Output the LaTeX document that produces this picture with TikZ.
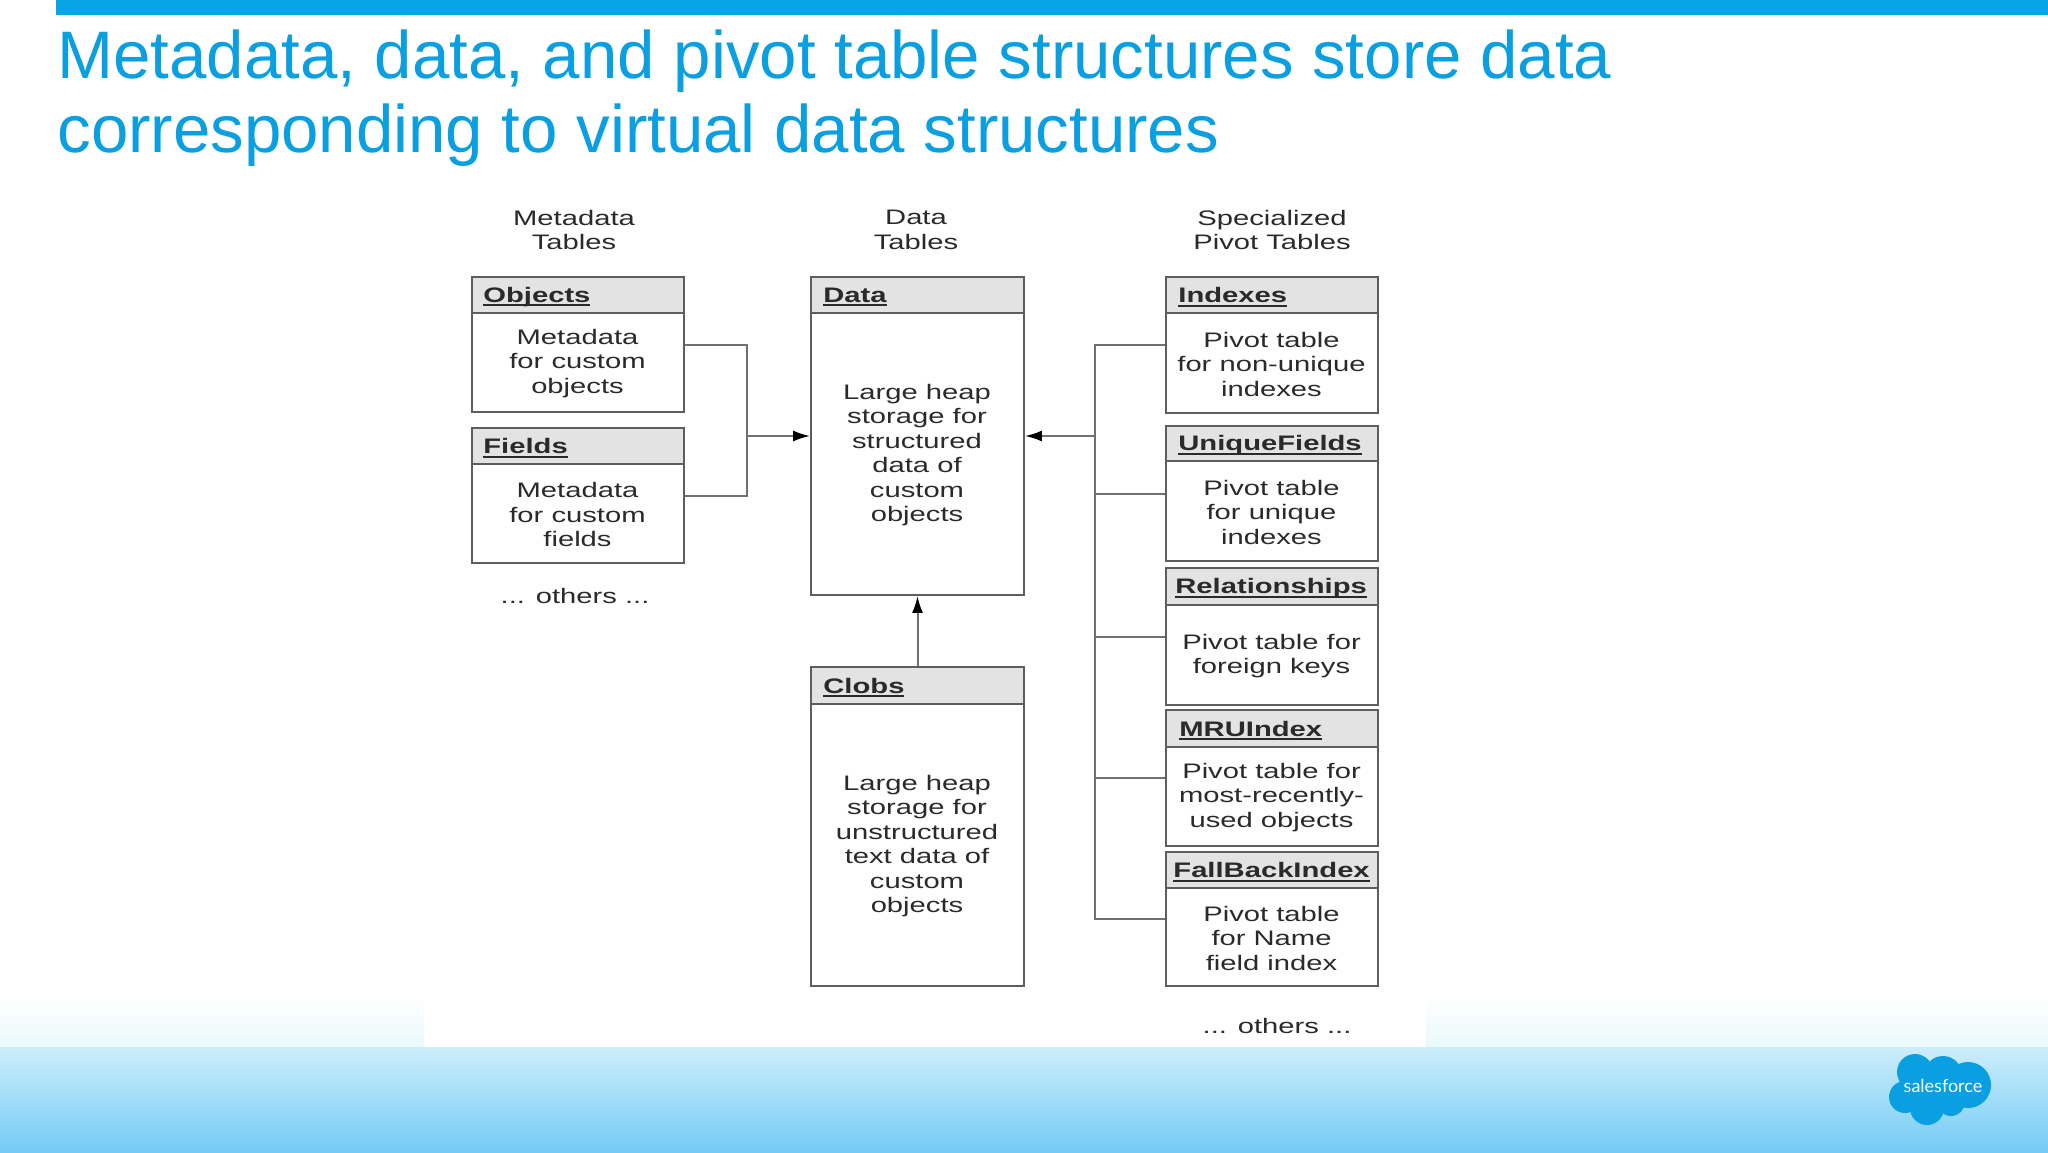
\documentclass[tikz,border=0pt]{standalone}
\usepackage{fontspec}
\setmainfont{Liberation Sans}
\newfontfamily\diagfont[FakeStretch=1.39]{Liberation Sans}
\newfontfamily\logofont{Lato}
\usetikzlibrary{fit,arrows.meta}
\definecolor{sfblue}{HTML}{0A9FE0}
\definecolor{barblue}{HTML}{06A6E6}
\definecolor{linegray}{HTML}{5E5E5E}
\definecolor{conngray}{HTML}{707070}
\definecolor{headgray}{HTML}{E3E3E3}
\definecolor{textgray}{HTML}{2A2A2A}
\definecolor{bandtop}{HTML}{EAF9FB}
\definecolor{bandmid}{HTML}{CDEEFB}
\definecolor{bandlow}{HTML}{74CBF4}
\newcommand\hdrul[1]{\setbox0\hbox{#1}\leavevmode\rlap{\rule[-2pt]{\wd0}{1pt}}\box0}
\tikzset{
  x=0.5pt,y=-0.5pt,
  tablebody/.style={draw=linegray,line width=0.9pt,fill=white,inner sep=0pt},
  tablehead/.style={draw=linegray,line width=0.9pt,fill=headgray,inner sep=0pt},
  titletext/.style={anchor=west,inner sep=0pt,text=textgray,font=\diagfont\bfseries\fontsize{10.5}{12.25}\selectfont},
  bodytext/.style={align=center,inner sep=0pt,text=textgray,font=\diagfont\fontsize{10.5}{12.25}\selectfont},
  conn/.style={draw=conngray,line width=1pt},
  connarrow/.style={conn,-{Latex[length=8.5pt,width=5.5pt,color=black]}},
  slidetitle/.style={anchor=base west,inner sep=0pt,text=sfblue,font=\fontsize{33.6}{37}\selectfont},
}
% name, left, top, head bottom, right, bottom, title, title offset, body
\newcommand\tablebox[9]{%
  \node[tablebody,fit={(#2,#3)(#5,#6)}] (#1) {};
  \node[tablehead,fit={(#2,#3)(#5,#4)}] (#1head) {};
  \node[titletext] (#1title) at ({#2+#8},{(#3+#4)/2+2}) {\hdrul{#7}};
  \node[bodytext] (#1text) at ({(#2+#5)/2-0.5},{(#4+#6)/2+1}) {#9};
}
\begin{document}
\begin{tikzpicture}
\useasboundingbox (0,0) rectangle (2048,1152);
\fill[white] (0,0) rectangle (2048,1152);
% bottom band
\shade[top color=white,bottom color=bandtop] (0,995) rectangle (2048,1047);
\shade[top color=bandmid,bottom color=bandlow] (0,1047) rectangle (2048,1152);
\fill[white] (424,990) rectangle (1426,1047);
% top bar
\fill[barblue] (56,0) rectangle (2048,15);
\node[slidetitle] (title1) at (57,78) {Metadata, data, and pivot table structures store data};
\node[slidetitle] (title2) at (57,152) {corresponding to virtual data structures};
% column heads
\node[bodytext] (collabel1) at (574,230) {Metadata\\Tables};
\node[bodytext] (collabel2) at (916,230) {Data\\Tables};
\node[bodytext] (collabel3) at (1272,230) {Specialized\\Pivot Tables};
% tables
\tablebox{objects}{472}{277}{313}{684}{412}{Objects}{11}{Metadata\\for custom\\objects}
\tablebox{fields}{472}{428}{464}{684}{563}{Fields}{11}{Metadata\\for custom\\fields}
\tablebox{data}{811}{277}{313}{1024}{595}{Data}{12}{Large heap\\storage for\\structured\\data of\\custom\\objects}
\tablebox{clobs}{811}{667}{704}{1024}{986}{Clobs}{12}{Large heap\\storage for\\unstructured\\text data of\\custom\\objects}
\tablebox{indexes}{1166}{277}{313}{1378}{413}{Indexes}{12}{Pivot table\\for non-unique\\indexes}
\tablebox{unique}{1166}{426}{461}{1378}{561}{UniqueFields}{12}{Pivot table\\for unique\\indexes}
\tablebox{rel}{1166}{568}{605}{1378}{705}{Relationships}{9}{Pivot table for\\foreign keys}
\tablebox{mru}{1166}{710}{747}{1378}{846}{MRUIndex}{13}{Pivot table for\\most-recently-\\used objects}
\tablebox{fallback}{1166}{852}{888}{1378}{986}{FallBackIndex}{7}{Pivot table\\for Name\\field index}
\node[bodytext] (others1) at (575,596) {... others ...};
\node[bodytext] (others2) at (1277,1026) {... others ...};
% connectors
\coordinate (lbus) at (747,436);
\coordinate (rbus) at (1095,436);
\draw[conn] (objects.east) -| (lbus);
\draw[conn] (fields.east) -| (lbus);
\draw[connarrow] (lbus) -- (data.west);
\draw[conn] (indexes.west) -| (rbus);
\draw[conn] (fallback.west) -| (rbus);
\draw[conn] (unique.west) -- (unique.west -| rbus);
\draw[conn] (rel.west) -- (rel.west -| rbus);
\draw[conn] (mru.west) -- (mru.west -| rbus);
\draw[connarrow] (rbus) -- (data.east);
\draw[connarrow] (clobs.north) -- (data.south);
% logo
\fill[sfblue] (1915,1072) circle [radius=18] (1943,1075) circle [radius=19] (1968,1085) circle [radius=23] (1951,1102) circle [radius=14] (1927,1108) circle [radius=17] (1905,1097) circle [radius=16] (1935,1090) circle [radius=20];
\node[inner sep=0pt,text=white,font=\logofont\fontsize{9}{9}\selectfont] (logotext) at (1943,1086) {salesforce};
\end{tikzpicture}
\end{document}
